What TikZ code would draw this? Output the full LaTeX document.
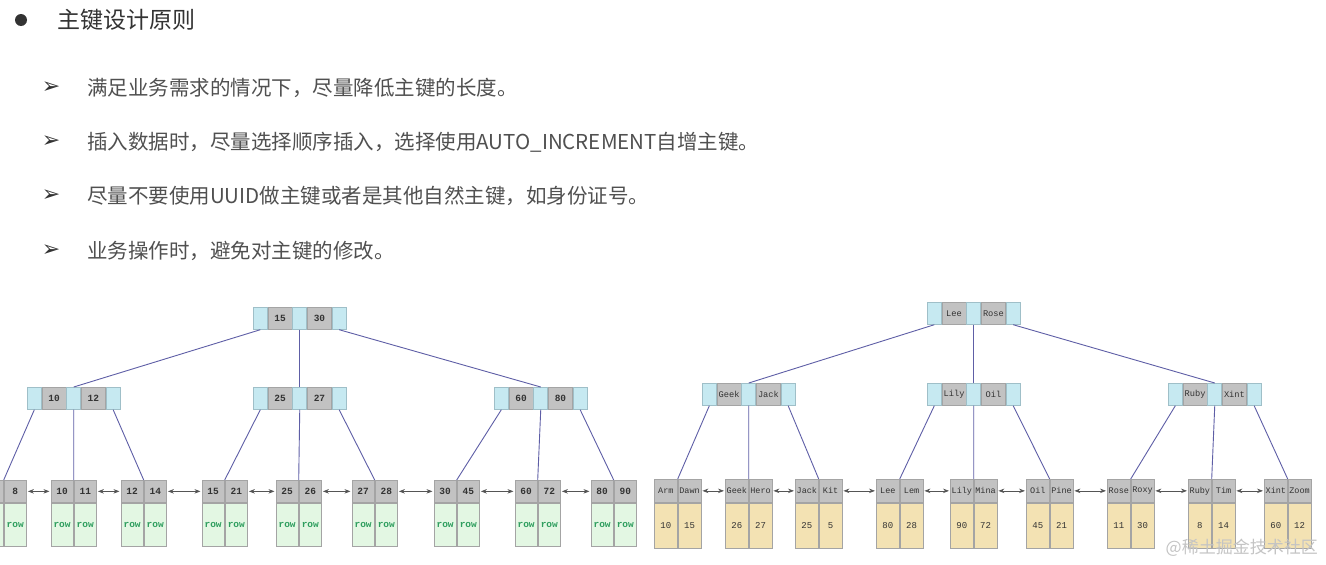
\documentclass[tikz,border=0pt]{standalone}
\usepackage{fontspec}
\setmainfont{Liberation Sans}
\newfontfamily\cjk{Noto Sans CJK SC}
\newfontfamily\monof{Liberation Mono}
\newfontfamily\dejavu{DejaVu Sans}
\usetikzlibrary{arrows.meta}
\definecolor{ptr}{HTML}{C6E9F1}
\definecolor{ptrb}{HTML}{9FBFC8}
\definecolor{keyc}{HTML}{C2C2C2}
\definecolor{keyb}{HTML}{A4A4A4}
\definecolor{rowg}{HTML}{E3F7E3}
\definecolor{rowt}{HTML}{2E9E5E}
\definecolor{datay}{HTML}{F3E2B3}
\definecolor{edgec}{HTML}{5E5EA6}
\definecolor{arrc}{HTML}{555555}
\definecolor{titlec}{HTML}{333333}
\definecolor{itemc}{HTML}{505050}
\definecolor{txtd}{HTML}{333333}
\definecolor{wmark}{HTML}{C4C4C4}
\newcommand\inode[6]{% name, x, y, k1, k2, font
  \node[pcell] (#1-p1) at (#2,#3) {};
  \node[kcell,font=#6] (#1-k1) at (#1-p1.north east) {#4};
  \node[pcell] (#1-p2) at (#1-k1.north east) {};
  \node[kcell,font=#6] (#1-k2) at (#1-p2.north east) {#5};
  \node[pcell] (#1-p3) at (#1-k2.north east) {};
}
\newcommand\leafnode[9]{% name, x, y, h1, h2, b1, b2, headstyle, bodystyle
  \node[#8] (#1-h1) at (#2,#3) {#4};
  \node[#8] (#1-h2) at (#1-h1.north east) {#5};
  \node[#9] (#1-b1) at (#1-h1.south west) {#6};
  \node[#9] (#1-b2) at (#1-h2.south west) {#7};
}
\begin{document}
\begin{tikzpicture}[x=1pt,y=-1pt,
  cellbase/.style={draw=#1, line width=0.7pt, inner sep=0pt, anchor=north west, text=txtd},
  pcell/.style={cellbase=ptrb, fill=ptr, minimum width=14pt, minimum height=22pt},
  kcell/.style={cellbase=keyb, fill=keyc, minimum width=24pt, minimum height=22pt},
  lhead/.style={cellbase=keyb, fill=keyc, minimum width=22.5pt, minimum height=22pt,
    font=\monof\bfseries\fontsize{9.5}{9.5}\selectfont},
  rowcell/.style={cellbase=keyb, fill=rowg, minimum width=22.5pt, minimum height=43pt,
    text=rowt, font=\monof\bfseries\fontsize{9.5}{9.5}\selectfont},
  rhead/.style={cellbase=keyb, fill=keyc, minimum width=23pt, minimum height=23pt,
    font=\monof\fontsize{8.5}{8.5}\selectfont},
  datacell/.style={cellbase=keyb, fill=datay, minimum width=23pt, minimum height=45pt,
    font=\monof\fontsize{9}{9}\selectfont},
  link/.style={draw=edgec, line width=0.9pt},
  larr/.style={draw=arrc, line width=0.7pt, {Stealth[length=6pt,width=4.5pt]}-{Stealth[length=6pt,width=4.5pt]}, shorten <=1pt, shorten >=1pt},
  item/.style={anchor=west, inner sep=0pt, text=itemc, font=\cjk\fontsize{20.5}{20.5}\selectfont},
  bulletmark/.style={inner sep=0pt, text=titlec, font=\dejavu\fontsize{22}{22}\selectfont}
]
\useasboundingbox (0,0) rectangle (1326,565);
\clip (0,0) rectangle (1326,565);
\fill[white] (0,0) rectangle (1326,565);

% ---------- text ----------
\node[circle, fill=titlec, minimum size=12pt, inner sep=0pt] (dot) at (21,20) {};
\node[anchor=west, inner sep=0pt, text=titlec, font=\cjk\fontsize{23}{23}\selectfont] (title) at (57,20) {主键设计原则};
\node[bulletmark] (m1) at (51,88) {➢};
\node[item] (t1) at (87,88) {满足业务需求的情况下，尽量降低主键的长度。};
\node[bulletmark] (m2) at (51,142) {➢};
\node[item] (t2) at (87,142) {插入数据时，尽量选择顺序插入，选择使用AUTO\_INCREMENT自增主键。};
\node[bulletmark] (m3) at (51,196) {➢};
\node[item] (t3) at (87,196) {尽量不要使用UUID做主键或者是其他自然主键，如身份证号。};
\node[bulletmark] (m4) at (51,251) {➢};
\node[item] (t4) at (87,251) {业务操作时，避免对主键的修改。};

% ---------- left tree ----------
\def\nf{\monof\bfseries\fontsize{9.5}{9.5}\selectfont}
\inode{L0}{253}{307}{15}{30}{\nf}
\inode{L1}{27}{387}{10}{12}{\nf}
\inode{L2}{253}{387}{25}{27}{\nf}
\inode{L3}{494}{387}{60}{80}{\nf}

\leafnode{A1}{-19.5}{480}{}{8}{}{row}{lhead}{rowcell}
\leafnode{A2}{50.5}{480}{10}{11}{row}{row}{lhead}{rowcell}
\leafnode{A3}{120.5}{480}{12}{14}{row}{row}{lhead}{rowcell}
\leafnode{A4}{201.5}{480}{15}{21}{row}{row}{lhead}{rowcell}
\leafnode{A5}{275.5}{480}{25}{26}{row}{row}{lhead}{rowcell}
\leafnode{A6}{351.5}{480}{27}{28}{row}{row}{lhead}{rowcell}
\leafnode{A7}{433.5}{480}{30}{45}{row}{row}{lhead}{rowcell}
\leafnode{A8}{514.5}{480}{60}{72}{row}{row}{lhead}{rowcell}
\leafnode{A9}{590.5}{480}{80}{90}{row}{row}{lhead}{rowcell}

\draw[link] (L0-p1.south) -- (L1-p2.north);
\draw[link] (L0-p2.south) -- (L2-p2.north);
\draw[link] (L0-p3.south) -- (L3-p2.north);
\draw[link] (L1-p1.south) -- (A1-h1.north east);
\draw[link] (L1-p2.south) -- (A2-h1.north east);
\draw[link] (L1-p3.south) -- (A3-h1.north east);
\draw[link] (L2-p1.south) -- (A4-h1.north east);
\draw[link] (L2-p2.south) -- (A5-h1.north east);
\draw[link] (L2-p3.south) -- (A6-h1.north east);
\draw[link] (L3-p1.south) -- (A7-h1.north east);
\draw[link] (L3-p2.south) -- (A8-h1.north east);
\draw[link] (L3-p3.south) -- (A9-h1.north east);

\foreach \a/\b in {A1/A2,A2/A3,A3/A4,A4/A5,A5/A6,A6/A7,A7/A8,A8/A9}
  \draw[larr] (\a-h2.east) -- (\b-h1.west);

% ---------- right tree ----------
\def\sf{\monof\fontsize{8.7}{8.7}\selectfont}
\inode{R0}{927}{302}{Lee}{Rose}{\sf}
\inode{R1}{702}{383}{Geek}{Jack}{\sf}
\inode{R2}{927}{383}{Lily}{Oil}{\sf}
\inode{R3}{1168}{383}{Ruby}{Xint}{\sf}

\leafnode{B1}{654}{479}{Arm}{Dawn}{10}{15}{rhead}{datacell}
\leafnode{B2}{725}{479}{Geek}{Hero}{26}{27}{rhead}{datacell}
\leafnode{B3}{795}{479}{Jack}{Kit}{25}{5}{rhead}{datacell}
\leafnode{B4}{876}{479}{Lee}{Lem}{80}{28}{rhead}{datacell}
\leafnode{B5}{950}{479}{Lily}{Mina}{90}{72}{rhead}{datacell}
\leafnode{B6}{1026}{479}{Oil}{Pine}{45}{21}{rhead}{datacell}
\leafnode{B7}{1107}{479}{Rose}{Roxy}{11}{30}{rhead}{datacell}
\leafnode{B8}{1188}{479}{Ruby}{Tim}{8}{14}{rhead}{datacell}
\leafnode{B9}{1264}{479}{Xint}{Zoom}{60}{12}{rhead}{datacell}

\draw[link] (R0-p1.south) -- (R1-p2.north);
\draw[link] (R0-p2.south) -- (R2-p2.north);
\draw[link] (R0-p3.south) -- (R3-p2.north);
\draw[link] (R1-p1.south) -- (B1-h1.north east);
\draw[link] (R1-p2.south) -- (B2-h1.north east);
\draw[link] (R1-p3.south) -- (B3-h1.north east);
\draw[link] (R2-p1.south) -- (B4-h1.north east);
\draw[link] (R2-p2.south) -- (B5-h1.north east);
\draw[link] (R2-p3.south) -- (B6-h1.north east);
\draw[link] (R3-p1.south) -- (B7-h1.north east);
\draw[link] (R3-p2.south) -- (B8-h1.north east);
\draw[link] (R3-p3.south) -- (B9-h1.north east);

\foreach \a/\b in {B1/B2,B2/B3,B3/B4,B4/B5,B5/B6,B6/B7,B7/B8,B8/B9}
  \draw[larr] (\a-h2.east) -- (\b-h1.west);

% watermark
\node[anchor=east, inner sep=0pt, text=wmark, font=\cjk\fontsize{17}{17}\selectfont] (wm) at (1318,548) {@稀土掘金技术社区};
\end{tikzpicture}
\end{document}
